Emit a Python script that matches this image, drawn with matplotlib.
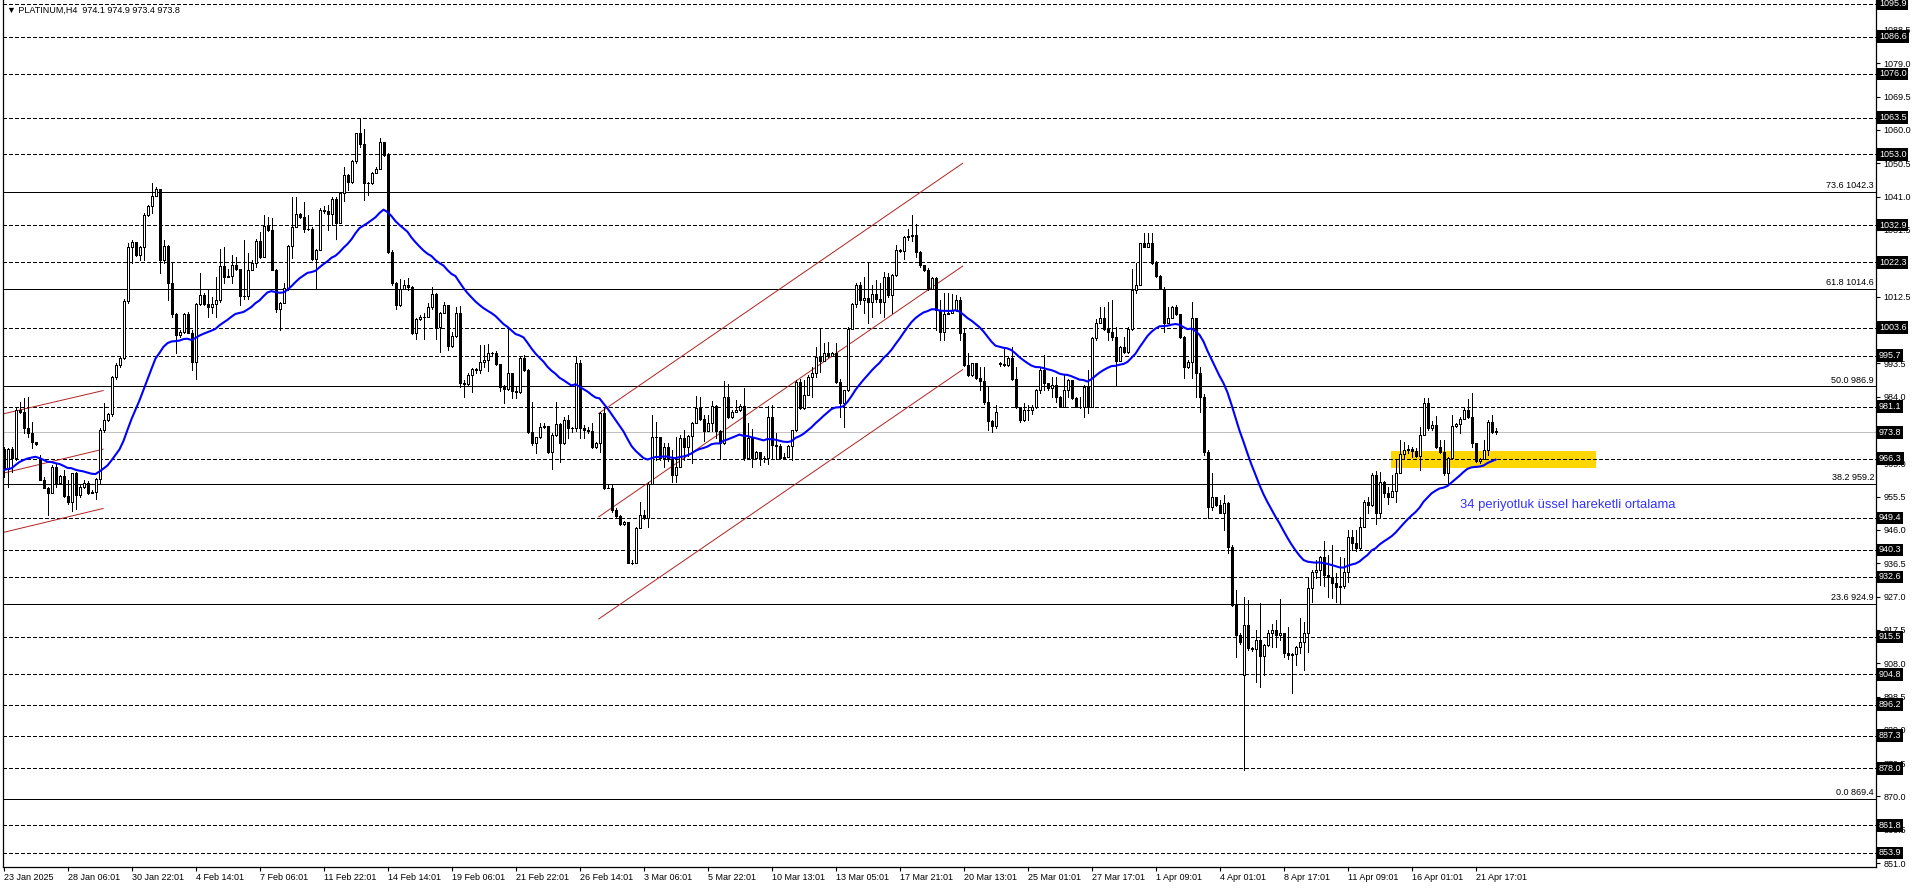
import numpy as np
import matplotlib.pyplot as plt
import matplotlib.transforms as mtransforms
from matplotlib.patches import Rectangle

plt.rcParams['font.family'] = ['Liberation Sans', 'DejaVu Sans']
plt.rcParams['lines.scale_dashes'] = False

# PLATINUM H4 - closes / highs / lows (bar 0 = 23 Jan 2025)
closes = [
    963.3, 969.0, 966.4, 980.2, 979.7, 974.9, 973.5, 971.1, 970.6, 960.2,
    957.8, 956.4, 964.0, 959.3, 961.3, 955.6, 954.0, 962.1, 955.9, 958.3,
    959.4, 956.6, 956.9, 960.4, 974.6, 977.3, 979.0, 989.7, 993.0, 994.9,
    1011.2, 1026.7, 1028.1, 1024.3, 1026.7, 1035.7, 1038.3, 1041.3, 1043.1, 1022.9,
    1027.0, 1016.5, 1007.5, 1001.5, 1002.5, 1007.4, 1002.2, 993.9, 1010.3, 1012.9,
    1010.4, 1009.6, 1010.3, 1011.5, 1021.3, 1018.2, 1018.4, 1021.5, 1020.5, 1012.6,
    1012.6, 1020.2, 1022.2, 1028.3, 1023.9, 1032.6, 1031.5, 1020.2, 1008.9, 1010.8,
    1015.0, 1027.0, 1032.4, 1035.9, 1035.1, 1031.9, 1031.9, 1023.1, 1025.9, 1037.2,
    1036.9, 1035.9, 1040.2, 1033.4, 1042.1, 1047.2, 1045.1, 1051.1, 1059.0, 1055.9,
    1044.8, 1045.0, 1047.8, 1049.0, 1056.6, 1052.9, 1025.3, 1016.5, 1010.1, 1014.8,
    1015.8, 1015.3, 1002.0, 1006.0, 1006.8, 1006.8, 1009.4, 1013.1, 1003.7, 1007.9,
    1010.1, 998.5, 1001.3, 1007.7, 987.9, 987.6, 990.1, 991.8, 991.6, 993.9,
    994.5, 996.3, 996.3, 993.3, 986.6, 986.1, 990.6, 985.7, 985.4, 994.9,
    991.6, 974.0, 970.7, 972.4, 975.4, 975.6, 968.3, 973.0, 976.1, 970.7,
    977.3, 974.9, 974.9, 993.7, 974.9, 974.6, 974.3, 969.5, 970.8, 979.2,
    957.8, 957.8, 951.7, 949.9, 947.7, 948.3, 936.6, 936.6, 946.4, 950.3,
    949.3, 959.2, 972.6, 972.6, 966.4, 969.7, 966.1, 961.6, 964.0, 972.1,
    969.7, 972.8, 976.6, 980.6, 977.5, 974.3, 976.6, 981.3, 974.3, 970.7,
    983.8, 978.1, 979.7, 980.2, 981.3, 966.4, 972.1, 966.4, 968.3, 966.4,
    966.4, 978.3, 970.2, 970.0, 966.4, 966.7, 969.9, 974.5, 988.2, 980.6,
    984.5, 989.7, 990.6, 995.4, 994.1, 996.3, 995.6, 996.5, 988.2, 982.3,
    985.9, 1003.4, 1010.4, 1015.8, 1011.5, 1012.0, 1011.0, 1013.2, 1011.8, 1011.0,
    1018.2, 1013.0, 1018.6, 1025.8, 1025.6, 1029.6, 1029.8, 1030.1, 1025.3, 1021.5,
    1020.1, 1014.6, 1017.7, 1008.7, 1002.5, 1007.4, 1007.9, 1008.7, 1011.5, 1002.0,
    993.0, 990.1, 993.5, 989.2, 988.5, 982.5, 977.1, 975.5, 979.7, 993.2,
    993.0, 994.9, 988.9, 980.9, 977.3, 980.2, 980.2, 980.9, 985.9, 991.6,
    987.8, 986.3, 987.3, 984.0, 981.1, 985.9, 988.7, 983.5, 981.1, 981.1,
    986.8, 981.1, 1000.6, 1004.9, 1006.3, 1003.4, 1002.5, 1001.1, 994.2, 998.2,
    996.8, 1003.4, 1014.4, 1015.8, 1027.7, 1026.7, 1027.9, 1022.0, 1018.4, 1014.8,
    1004.9, 1006.3, 1009.4, 1007.5, 1001.1, 992.5, 993.9, 1006.3, 990.6, 984.0,
    968.3, 952.6, 955.3, 953.1, 950.9, 953.7, 941.2, 924.6, 916.0, 914.1,
    918.9, 912.2, 911.9, 914.6, 910.0, 913.2, 916.5, 917.4, 916.0, 916.5,
    911.0, 910.3, 910.5, 912.7, 914.1, 916.5, 929.3, 934.1, 934.5, 938.2,
    933.1, 932.6, 930.8, 929.8, 930.0, 934.1, 944.1, 942.2, 940.8, 946.9,
    954.0, 953.1, 961.6, 950.7, 959.7, 956.4, 955.5, 957.0, 962.3, 967.6,
    968.8, 969.0, 968.6, 967.1, 973.0, 982.2, 974.9, 975.9, 969.7, 968.3,
    962.1, 966.6, 975.6, 976.2, 977.5, 980.2, 978.3, 970.7, 965.7, 966.1,
    968.9, 976.8, 974.0, 973.8,
]

highs = [
    969.5, 969.2, 969.7, 980.6, 982.5, 983.7, 984.0, 976.8, 970.9, 967.3,
    961.1, 958.3, 964.5, 965.0, 961.6, 963.0, 960.2, 962.3, 962.6, 958.8,
    960.2, 959.8, 957.5, 960.7, 974.9, 982.2, 979.2, 989.9, 993.5, 995.4,
    1011.7, 1027.7, 1028.6, 1027.9, 1027.0, 1036.2, 1038.6, 1044.8, 1043.6, 1042.9,
    1028.6, 1027.2, 1022.0, 1007.9, 1003.0, 1007.7, 1008.2, 1003.1, 1010.6, 1019.1,
    1013.4, 1014.4, 1012.5, 1018.2, 1026.0, 1026.7, 1020.5, 1024.3, 1023.9, 1020.5,
    1028.6, 1024.8, 1022.9, 1028.8, 1031.0, 1035.7, 1035.3, 1034.8, 1020.5, 1011.0,
    1016.3, 1027.2, 1041.0, 1041.0, 1036.2, 1039.6, 1035.7, 1032.2, 1026.2, 1037.7,
    1038.3, 1038.6, 1040.8, 1040.8, 1042.4, 1049.5, 1047.4, 1051.4, 1059.2, 1063.3,
    1060.2, 1045.3, 1048.1, 1049.5, 1057.6, 1054.1, 1053.5, 1025.8, 1016.7, 1017.4,
    1017.2, 1017.7, 1015.5, 1006.3, 1007.2, 1007.9, 1010.8, 1015.1, 1013.6, 1008.2,
    1011.0, 1009.8, 1002.5, 1009.6, 1009.8, 988.7, 990.6, 992.1, 992.1, 998.7,
    998.7, 999.0, 996.8, 997.1, 993.3, 987.3, 1003.9, 990.8, 987.0, 995.4,
    995.8, 991.8, 982.5, 972.6, 976.4, 976.6, 975.4, 973.5, 982.5, 976.6,
    978.3, 978.8, 975.2, 995.4, 994.4, 975.9, 975.2, 976.4, 971.1, 979.7,
    981.1, 958.8, 958.8, 952.1, 950.2, 948.6, 947.9, 937.4, 946.9, 954.0,
    951.6, 959.7, 978.7, 976.8, 972.6, 970.7, 970.8, 968.8, 972.6, 973.0,
    974.5, 973.0, 976.8, 984.2, 983.8, 978.7, 978.7, 982.7, 981.5, 974.5,
    988.3, 987.6, 980.2, 983.0, 981.9, 986.3, 976.4, 974.7, 968.6, 967.3,
    967.0, 981.3, 981.6, 973.5, 970.5, 967.8, 970.2, 974.6, 988.7, 988.9,
    988.7, 990.1, 992.5, 998.2, 1003.4, 999.2, 999.6, 996.8, 999.2, 988.9,
    986.0, 1003.7, 1010.8, 1016.3, 1016.7, 1018.2, 1022.4, 1015.8, 1017.2, 1016.3,
    1019.6, 1019.1, 1018.9, 1027.2, 1026.2, 1029.8, 1031.7, 1035.8, 1033.2, 1025.5,
    1021.5, 1020.6, 1018.2, 1018.0, 1011.5, 1013.4, 1013.4, 1013.1, 1012.9, 1012.3,
    1003.4, 996.3, 993.7, 993.7, 992.5, 992.5, 986.8, 977.3, 981.6, 993.8,
    998.2, 995.4, 998.2, 992.5, 981.1, 982.1, 981.6, 981.6, 986.1, 992.0,
    995.8, 987.9, 989.7, 989.7, 984.1, 990.1, 988.9, 986.8, 983.9, 983.9,
    987.3, 991.6, 1000.9, 1006.0, 1009.6, 1009.6, 1011.0, 1011.5, 1003.9, 998.4,
    1001.1, 1003.9, 1020.3, 1022.0, 1027.9, 1030.5, 1030.5, 1030.5, 1022.6, 1018.6,
    1015.1, 1009.6, 1009.8, 1010.0, 1004.9, 1001.3, 994.4, 1011.0, 1006.3, 992.5,
    984.6, 968.9, 962.1, 955.4, 954.5, 955.9, 954.0, 941.7, 928.9, 916.5,
    926.9, 926.0, 912.7, 917.5, 925.1, 913.6, 917.4, 919.3, 920.3, 926.2,
    916.5, 918.4, 910.8, 912.9, 920.8, 919.8, 932.6, 934.5, 937.4, 938.5,
    942.9, 938.8, 941.7, 933.6, 938.4, 937.9, 945.9, 945.9, 945.9, 949.8,
    954.5, 955.5, 962.1, 962.9, 962.6, 959.8, 958.3, 961.6, 965.9, 971.6,
    971.1, 970.2, 969.7, 969.2, 975.2, 983.5, 983.5, 976.9, 978.4, 971.6,
    971.6, 966.9, 978.7, 976.6, 978.3, 981.1, 983.2, 984.9, 970.9, 966.4,
    971.6, 977.3, 978.7, 974.9,
]

lows = [
    961.1, 958.3, 962.6, 965.9, 979.2, 973.5, 972.6, 969.2, 970.2, 960.2,
    957.8, 950.2, 956.4, 958.3, 959.7, 955.4, 953.5, 951.5, 951.9, 955.4,
    957.8, 956.2, 956.4, 954.7, 959.3, 974.0, 977.1, 978.5, 988.9, 992.5,
    994.6, 1010.8, 1022.0, 1024.1, 1022.9, 1022.9, 1035.5, 1036.2, 1041.4, 1019.1,
    1022.0, 1011.5, 1006.8, 996.3, 1001.1, 1002.2, 1002.0, 991.6, 988.9, 1010.1,
    1010.1, 1006.8, 1007.7, 1006.8, 1011.0, 1016.5, 1018.2, 1016.5, 1020.2, 1010.1,
    1011.7, 1011.7, 1020.0, 1021.0, 1023.4, 1023.7, 1031.3, 1020.0, 1008.2, 1003.0,
    1010.6, 1014.4, 1023.4, 1032.2, 1034.8, 1031.0, 1031.6, 1022.9, 1015.0, 1025.7,
    1036.4, 1031.5, 1032.9, 1028.8, 1033.4, 1039.8, 1042.9, 1044.9, 1050.7, 1055.2,
    1040.0, 1041.4, 1044.6, 1048.4, 1048.8, 1052.6, 1025.0, 1015.8, 1009.1, 1009.8,
    1014.8, 1014.4, 1001.8, 1000.3, 1005.8, 1000.3, 1006.6, 1009.1, 1000.3, 996.8,
    1007.7, 997.3, 998.2, 1001.1, 986.8, 983.8, 987.3, 985.4, 990.6, 990.8,
    992.4, 991.4, 995.6, 993.0, 985.7, 982.1, 986.0, 983.5, 983.5, 985.1,
    991.4, 973.7, 970.2, 967.8, 972.1, 974.9, 968.0, 963.3, 972.7, 965.4,
    970.5, 972.1, 974.0, 974.3, 972.1, 972.1, 973.5, 969.2, 969.2, 968.3,
    957.6, 957.8, 951.2, 949.7, 947.4, 947.4, 936.5, 936.3, 936.5, 949.9,
    949.0, 946.9, 959.1, 965.9, 965.9, 964.0, 965.7, 959.7, 959.7, 963.8,
    965.9, 967.1, 965.2, 976.4, 977.3, 971.4, 974.3, 974.3, 972.1, 966.1,
    970.5, 977.8, 977.8, 980.0, 980.0, 965.9, 966.1, 964.0, 966.1, 964.5,
    965.4, 964.8, 966.4, 966.1, 966.1, 966.1, 966.7, 965.9, 974.3, 980.4,
    980.4, 984.9, 984.0, 989.7, 991.1, 994.4, 995.4, 995.6, 988.0, 978.3,
    975.4, 985.7, 1003.2, 1009.6, 1010.5, 1007.7, 1004.9, 1006.8, 1011.0, 1007.7,
    1006.8, 1012.5, 1007.7, 1018.4, 1025.3, 1023.1, 1028.6, 1028.4, 1023.9, 1021.0,
    1019.9, 1014.4, 1014.6, 1003.0, 1000.1, 1000.1, 1007.5, 1007.7, 1008.4, 1000.1,
    992.7, 989.9, 989.9, 988.9, 985.9, 982.0, 974.5, 974.0, 975.0, 992.8,
    992.7, 992.7, 988.7, 980.6, 976.8, 977.1, 977.3, 979.0, 980.6, 984.9,
    985.9, 986.0, 984.0, 982.5, 981.1, 981.1, 983.9, 983.2, 980.9, 980.6,
    978.3, 979.2, 981.1, 1000.1, 1005.0, 1003.0, 1000.1, 1000.1, 987.3, 994.2,
    996.3, 996.5, 1003.0, 1013.4, 1016.1, 1026.5, 1026.7, 1021.8, 1018.2, 1014.6,
    1002.5, 1004.9, 1006.3, 1007.2, 1000.6, 989.2, 992.0, 989.2, 984.0, 979.7,
    967.3, 949.3, 951.6, 952.8, 950.9, 946.0, 939.3, 924.3, 909.9, 913.6,
    877.5, 911.8, 911.5, 902.7, 901.3, 904.6, 913.0, 912.7, 912.7, 914.6,
    909.9, 909.3, 899.4, 907.5, 910.8, 906.1, 911.3, 925.5, 932.2, 930.3,
    930.0, 926.9, 926.5, 925.5, 925.0, 929.3, 931.2, 940.3, 940.1, 940.3,
    949.3, 950.7, 952.8, 947.8, 949.3, 955.4, 953.5, 955.5, 954.0, 962.1,
    966.4, 967.8, 966.9, 966.9, 963.1, 973.0, 974.6, 974.5, 969.2, 967.8,
    961.6, 959.4, 966.4, 975.2, 973.5, 977.5, 977.8, 969.7, 965.4, 965.1,
    966.1, 967.3, 973.5, 973.4,
]

first_open = 969.0
gap_opens = {9: 966.4, 249: 993.6, 310: 904.6, 373: 974.1}

ema_period = 34
ema_seed = 963.0

level_lines = [1095.9, 1086.6, 1076.0, 1063.5, 1053.0, 1032.9, 1022.3, 1003.6, 995.7,
               981.1, 966.3, 949.4, 940.3, 932.6, 915.5, 904.8, 896.2, 887.3, 878.0,
               861.8, 853.9]
fib_pct = [73.6, 61.8, 50.0, 38.2, 23.6, 0.0]
fib_price = [1042.3, 1014.6, 986.9, 959.2, 924.9, 869.4]
last_price = 973.8

# scale ticks (those fully covered by the boxed level labels are left out)
price_ticks = [851.0, 860.5, 870.0, 879.5, 889.0, 898.5, 908.0, 917.5, 927.0, 936.5,
               946.0, 955.5, 965.0, 984.0, 993.5, 1012.5,
               1031.5, 1041.0, 1050.5, 1060.0, 1069.5, 1079.0, 1088.5]

date_labels = ["23 Jan 2025", "28 Jan 06:01", "30 Jan 22:01", "4 Feb 14:01", "7 Feb 06:01",
               "11 Feb 22:01", "14 Feb 14:01", "19 Feb 06:01", "21 Feb 22:01", "26 Feb 14:01",
               "3 Mar 06:01", "5 Mar 22:01", "10 Mar 13:01", "13 Mar 05:01", "17 Mar 21:01",
               "20 Mar 13:01", "25 Mar 01:01", "27 Mar 17:01", "1 Apr 09:01", "4 Apr 01:01",
               "8 Apr 17:01", "11 Apr 09:01", "16 Apr 01:01", "21 Apr 17:01"]
bars_per_label = 16

# trend lines: (bar0, price0, bar1, price1)
left_channel = [(-0.3, 979.0, 24.9, 985.7),
                (-0.3, 962.1, 24.9, 969.0),
                (-0.3, 945.2, 24.9, 952.1)]
big_channel = [(148.8, 979.2, 239.8, 1050.5),
               (148.8, 949.7, 239.8, 1021.2),
               (148.8, 920.6, 239.8, 991.7)]
zone = (346.9, 963.7, 398.1, 968.6)   # bar0, low, bar1, high

title_text = "\u25BC PLATINUM,H4  974.1 974.9 973.4 973.8"
ema_note = "34 periyotluk \u00fcssel hareketli ortalama"

n = len(closes)
assert len(highs) == n and len(lows) == n, (len(closes), len(highs), len(lows))

opens = [first_open] + closes[:-1]
for k, v in gap_opens.items():
    opens[k] = v
opens = np.array(opens)
closes_a = np.array(closes)
highs_a = np.maximum(np.array(highs), np.maximum(opens, closes_a))
lows_a = np.minimum(np.array(lows), np.minimum(opens, closes_a))
idx = np.arange(n)

ema = []
e = ema_seed
alpha = 2.0 / (ema_period + 1)
for c in closes:
    e = e + alpha * (c - e)
    ema.append(e)

# ---- figure ----
W, H = 1916, 888
fig = plt.figure(figsize=(W / 100, H / 100), dpi=100)
ax_l, ax_r, ax_b, ax_t = 2.5, 1876.0, 867.0, 0.0
ax = fig.add_axes([ax_l / W, (H - ax_b) / H, (ax_r - ax_l) / W, (ax_b - ax_t) / H])
px_per_bar = 4.0
ax.set_xlim(-0.25, -0.25 + (ax_r - ax_l) / px_per_bar)
ax.set_ylim(849.9, 1097.04)

ax.spines['top'].set_visible(False)
for s in ['left', 'bottom', 'right']:
    ax.spines[s].set_linewidth(0.9)

fs = 6.5
lw1 = 0.72   # one pixel

# horizontal levels
for p in level_lines:
    ax.axhline(p, color='black', lw=lw1, ls=(0, (2.3, 2.0)), zorder=1, antialiased=False)
for p in fib_price:
    ax.axhline(p, color='black', lw=lw1, zorder=1, antialiased=False)
ax.axhline(last_price, color='#c0c0c0', lw=lw1, zorder=1, antialiased=False)

# yellow zone
ax.add_patch(Rectangle((zone[0], zone[1]), zone[2] - zone[0], zone[3] - zone[1],
                       facecolor='#ffd700', edgecolor='none', zorder=0.5))

# trend channels
for x0, y0, x1, y1 in left_channel + big_channel:
    ax.plot([x0, x1], [y0, y1], color='#b22222', lw=0.7, zorder=2)

# candles
up = closes_a >= opens
ax.vlines(idx, lows_a, highs_a, color='black', lw=lw1, zorder=3, antialiased=False)
body_lo = np.minimum(opens, closes_a)
body_h = np.abs(closes_a - opens)
ax.bar(idx[up], body_h[up], bottom=body_lo[up], width=0.5, facecolor='white',
       edgecolor='black', linewidth=lw1, zorder=4, antialiased=False)
ax.bar(idx[~up], body_h[~up], bottom=body_lo[~up], width=0.5, facecolor='black',
       edgecolor='black', linewidth=lw1, zorder=4, antialiased=False)

# EMA 34
ax.plot(idx, ema, color='#0000ff', lw=1.5, zorder=5)

# axes ticks
ax.yaxis.tick_right()
ax.set_yticks(price_ticks)
ax.set_yticklabels([f"{v:.1f}" for v in price_ticks])
ax.tick_params(axis='y', length=3, width=0.8, pad=2.5, labelsize=fs, colors='black')
xt = [k * bars_per_label for k in range(len(date_labels))]
ax.set_xticks(xt)
ax.set_xticklabels(date_labels)
for lab in ax.get_xticklabels():
    lab.set_ha('left')
ax.tick_params(axis='x', length=3, width=0.8, pad=1.5, labelsize=fs)

# boxed price labels on the right axis
yblend = mtransforms.blended_transform_factory(ax.transAxes, ax.transData)
xbox = 1.0 + 3.0 / (ax_r - ax_l)
for p in level_lines + [last_price]:
    ax.text(xbox, p, f"{p:.1f}", transform=yblend, ha='left', va='center', color='white',
            fontsize=fs, clip_on=False, zorder=10,
            bbox=dict(boxstyle='square,pad=0.2', facecolor='black', edgecolor='none'))

# fibonacci labels
xfib = 1.0 - 2.0 / (ax_r - ax_l)
for pct, p in zip(fib_pct, fib_price):
    ax.text(xfib, p + 0.5, f"{pct:.1f} {p:.1f}", transform=yblend, ha='right', va='bottom',
            fontsize=fs, color='black', zorder=6)

# title and note
ax.text(4.5 / (ax_r - ax_l), 1 - 10.5 / (ax_b - ax_t), title_text, transform=ax.transAxes,
        ha='left', va='center', fontsize=fs, color='black', zorder=10)
ax.text(364.2, 953.1, ema_note, ha='left', va='center', fontsize=9.4, color='#3535ff', zorder=6)

fig.savefig('out.png', dpi=100)
